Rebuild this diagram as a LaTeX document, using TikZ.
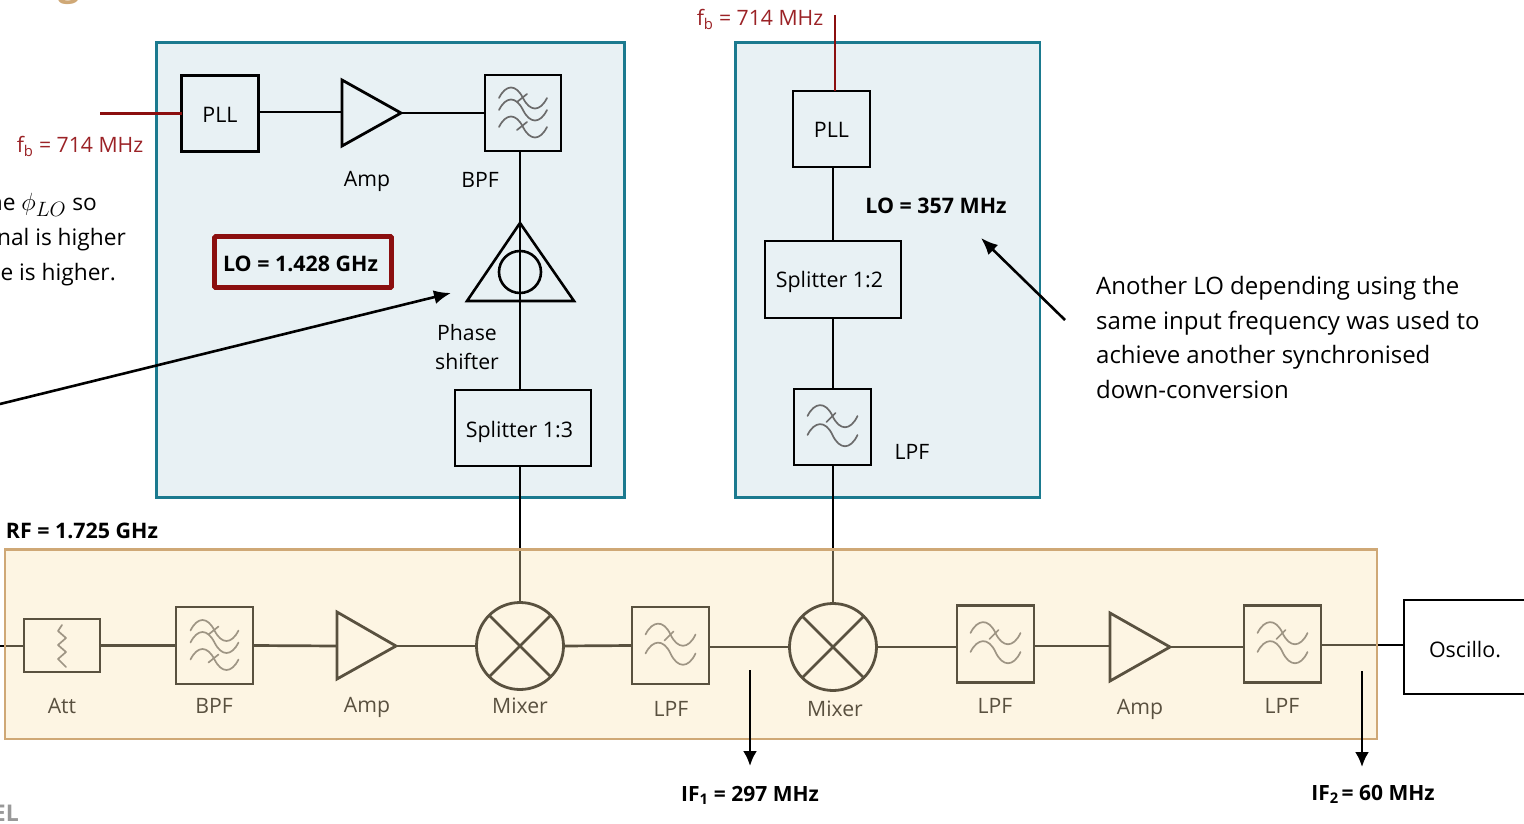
\documentclass[tikz,border=0pt]{standalone}
\usepackage{fontspec}
\setmainfont{Open Sans}
\usetikzlibrary{arrows.meta}
\definecolor{tealline}{HTML}{1B7A8F}
\definecolor{tealfill}{HTML}{E8F1F4}
\definecolor{tanline}{HTML}{CFA876}
\definecolor{veil}{RGB}{252,227,179}
\definecolor{darkred}{HTML}{8B0F0F}
\definecolor{fbred}{HTML}{9B2226}
\newcommand{\boxtext}[3]{\raisebox{#2}[\height][\depth]{\hspace*{#1}\fontsize{21.4}{24}\selectfont #3}}
\tikzset{
  x=1pt,y=-1pt,
  wire/.style={line width=2.7pt,black},
  redwire/.style={line width=2.5pt,darkred},
  lopanel/.style={draw=tealline,fill=tealfill,line width=2.6pt},
  blockbox/.style={draw=black,line width=2.8pt,inner sep=0pt,outer sep=0pt,align=center},
  mixerc/.style={circle,draw=black,line width=2.8pt,inner sep=0pt,outer sep=0pt,minimum size=87pt},
  lbl/.style={inner sep=0pt,yshift=-1.5pt,font=\fontsize{21.2}{24}\selectfont,align=center},
  blbl/.style={lbl,font=\fontsize{21.4}{24}\selectfont\bfseries},
  notelbl/.style={inner sep=0pt,anchor=base west,font=\fontsize{24}{28}\selectfont},
  edgelbl/.style={inner sep=0pt,anchor=base east,font=\fontsize{22.7}{26}\selectfont},
  redlbl/.style={lbl,text=fbred},
  wave/.style={line width=1.7pt,draw=black!58,line cap=round},
  ifarrow/.style={line width=2.6pt,black,-{Latex[length=15pt,width=14pt]}},
  callout/.style={line width=2.6pt,black,-{Latex[length=17pt,width=14pt]}},
  pics/lpfsym/.style={code={
    \foreach \yy in {-11,8}{
      \draw[wave] (-25,\yy) .. controls (-18,{\yy-14}) and (-7,{\yy-15}) .. (0,\yy)
                  .. controls (7,{\yy+15}) and (18,{\yy+15}) .. (25,\yy);}
    \draw[wave] (-6,-5) -- (3,-14);
  }},
  pics/bpfsym/.style={code={
    \foreach \yy in {-15,-3,14}{
      \draw[wave] (-24,\yy) .. controls (-17,{\yy-14}) and (-7,{\yy-14}) .. (0,\yy)
                  .. controls (7,{\yy+14}) and (17,{\yy+14}) .. (24,\yy);}
    \draw[wave] (-6,-11) -- (4,-19);
    \draw[wave] (-6,17) -- (4,9);
  }},
}
\begin{document}
\begin{tikzpicture}
\clip (0,0) rectangle (1524,824);
\fill[white] (0,0) rectangle (1524,824);

% cut-off text at the edges
\node[inner sep=0pt,anchor=base,text=tanline,font=\fontsize{38}{40}\selectfont\bfseries] (frag) at (69,-4) {g};
\node[inner sep=0pt,anchor=base east,text=black!40,font=\fontsize{23}{26}\selectfont\bfseries] (frag2) at (19,821) {EL};
\node[edgelbl] (t1) at (97,211) {he \scalebox{1.2}{$\phi_{LO}$} so};
\node[edgelbl] (t2) at (126,245) {nal is higher};
\node[edgelbl] (t3) at (116,280) {e is higher.};

% LO panels
\draw[lopanel] (156.5,42.5) rectangle (624.5,497.5);
\draw[lopanel] (735.5,42.5) rectangle (1040,497.5);

% first LO chain
\coordinate (redin1) at (100,113.5);
\node[blockbox,minimum width=77pt,minimum height=76pt] (pll1) at (220,113.5) {\boxtext{0pt}{-1pt}{PLL}};
\coordinate (amp1w) at (342,113);
\coordinate (amp1e) at (401,113);
\node[blockbox,minimum width=76pt,minimum height=76pt] (bpf1) at (523,113) {};
\pic at (bpf1.center) {bpfsym};
\coordinate (tri1a) at (520,223);
\coordinate (tri1l) at (467,301);
\coordinate (tri1r) at (574,301);
\node[circle,draw=black,line width=2.6pt,inner sep=0pt,minimum size=42pt] (ps1) at (520,272) {};
\node[blockbox,minimum width=136pt,minimum height=76pt] (spl1) at (523,428) {\boxtext{-7pt}{-4pt}{Splitter 1:3}};
\draw[redwire] (redin1) -- (pll1.west |- redin1);
\draw[wire] (pll1.east |- 0,112) -- (amp1w |- 0,112);
\draw[wire] (amp1e) -- (bpf1.west);
\draw[line width=2.8pt,line join=miter] (342,80) -- (amp1e) -- (342,146) -- cycle;
\draw[wire] (bpf1.south -| tri1a) -- (spl1.north -| tri1a);
\draw[line width=2.6pt,line join=miter] (tri1a) -- (tri1r) -- (tri1l) -- cycle;
\node[lbl] (amp1l) at (367,180) {Amp};
\node[lbl] (bpf1l) at (480,178) {BPF};
\node[lbl] (ps1l1) at (467,331) {Phase};
\node[lbl] (ps1l2) at (467,360) {shifter};
\node[blockbox,draw=darkred,line width=4.6pt,rounded corners=1pt,minimum width=177pt,minimum height=51pt] (lo1) at (303,262) {\raisebox{-2pt}[\height][\depth]{\hspace*{-5pt}\fontsize{21.4}{24}\selectfont\bfseries LO = 1.428 GHz}};
\node[redlbl] (fb1) at (80,145) {f\textsubscript{b} = 714 MHz};

% second LO chain
\coordinate (redin2) at (835,15);
\node[blockbox,minimum width=77pt,minimum height=76pt] (pll2) at (831.5,129) {\boxtext{0pt}{-1pt}{PLL}};
\node[blockbox,minimum width=136pt,minimum height=77pt] (spl2) at (833,279.5) {\boxtext{-7pt}{-2pt}{Splitter 1:2}};
\node[blockbox,minimum width=77pt,minimum height=76pt] (lpf0) at (832.5,427) {};
\pic at (lpf0.center) {lpfsym};
\draw[redwire] (redin2) -- (redin2 |- pll2.north);
\draw[wire] (pll2.south -| spl2.north) -- (spl2.north);
\draw[wire] (spl2.south) -- (lpf0.north -| spl2.south);
\node[redlbl] (fb2) at (760,18) {f\textsubscript{b} = 714 MHz};
\node[blbl] (lo2) at (936,204) {LO = 357 MHz};
\node[lbl] (lpf0l) at (912,450) {LPF};

% down-conversion chain (seen through the veil drawn after it)
\coordinate (rfin) at (0,646);
\node[blockbox,fill=white,minimum width=76pt,minimum height=53pt] (att) at (62,645.5) {};
\draw[line width=1.7pt,black!58,line cap=round,line join=round] (62,625) -- (58,631) -- (66,638) -- (58,645) -- (66,652) -- (58,659) -- (66,667);
\node[blockbox,minimum width=77pt,minimum height=77pt] (bpf2) at (214.5,645.5) {};
\pic at (bpf2.center) {bpfsym};
\coordinate (amp2w) at (337,646);
\coordinate (amp2e) at (396,646);
\node[mixerc] (mix1) at (520,646) {};
\node[blockbox,minimum width=77pt,minimum height=77pt] (lpf1) at (670.5,645.5) {};
\pic at (lpf1.center) {lpfsym};
\node[mixerc] (mix2) at (833,647) {};
\node[blockbox,minimum width=77pt,minimum height=77pt] (lpf2) at (995.5,644) {};
\pic at (lpf2.center) {lpfsym};
\coordinate (amp3w) at (1110,647);
\coordinate (amp3e) at (1170,647);
\node[blockbox,minimum width=77pt,minimum height=77pt] (lpf3) at (1282.5,644) {};
\pic at (lpf3.center) {lpfsym};
\node[blockbox,fill=white,minimum width=130pt,minimum height=94pt] (osc) at (1469,647) {\boxtext{-8pt}{-3pt}{Oscillo.}};

\draw[wire] (rfin) -- (att.west |- rfin);
\draw[wire] (att.east) -- (bpf2.west);
\draw[wire] (bpf2.east) -- (amp2w);
\draw[line width=2.8pt,line join=miter] (337,612) -- (amp2e) -- (337,679) -- cycle;
\draw[wire] (amp2e) -- (mix1.west);
\draw[wire] (mix1.east) -- (lpf1.west);
\draw[wire] (lpf1.east |- mix2.west) -- (mix2.west);
\draw[wire] (mix2.east) -- (lpf2.west |- mix2.east);
\draw[wire] (lpf2.east |- 0,646) -- (amp3w |- 0,646);
\draw[line width=2.8pt,line join=miter] (1110,613) -- (amp3e) -- (1110,681) -- cycle;
\draw[wire] (amp3e) -- (lpf3.west |- amp3e);
\draw[wire] (lpf3.east |- 0,645) -- (osc.west |- 0,645);
\draw[line width=2.6pt] (mix1.45) -- (mix1.225);
\draw[line width=2.6pt] (mix1.135) -- (mix1.315);
\draw[line width=2.6pt] (mix2.45) -- (mix2.225);
\draw[line width=2.6pt] (mix2.135) -- (mix2.315);
\draw[wire] (spl1.south -| mix1.north) -- (mix1.north);
\draw[wire] (lpf0.south -| mix2.north) -- (mix2.north);
\node[lbl] (attl) at (62,704.5) {Att};
\node[lbl] (bpf2l) at (214,704.5) {BPF};
\node[lbl] (amp2l) at (367,706) {Amp};
\node[lbl] (mix1l) at (520,704.5) {Mixer};
\node[lbl] (lpf1l) at (671,707) {LPF};
\node[lbl] (mix2l) at (835,707) {Mixer};
\node[lbl] (lpf2l) at (995,704.5) {LPF};
\node[lbl] (amp3l) at (1140,707.5) {Amp};
\node[lbl] (lpf3l) at (1282,704.5) {LPF};

% the veil over the chain
\fill[veil,opacity=.357] (5,549.5) rectangle (1377,739);
\draw[tanline,line width=2.6pt] (5,549.5) rectangle (1377,739);

% outputs and notes
\coordinate (if1a) at (750,670);
\coordinate (if1b) at (750,766);
\coordinate (if2a) at (1362,671);
\coordinate (if2b) at (1362,767);
\draw[ifarrow] (if1a) -- (if1b);
\draw[ifarrow] (if2a) -- (if2b);
\node[blbl,font=\fontsize{21}{24}\selectfont\bfseries] (if1) at (750,794) {IF\textsubscript{1} = 297 MHz};
\node[blbl,font=\fontsize{21}{24}\selectfont\bfseries] (if2) at (1373,793) {IF\textsubscript{2}\hspace{3pt}= 60 MHz};
\node[blbl] (rf) at (82,529) {RF = 1.725 GHz};

\coordinate (ca1) at (0,404);
\coordinate (ca2) at (451,293);
\draw[callout] (ca1) -- (ca2);
\coordinate (cb1) at (1065,320);
\coordinate (cb2) at (981,238);
\draw[callout] (cb1) -- (cb2);
\node[notelbl] (n1) at (1096,294.5) {Another LO depending using the};
\node[notelbl] (n2) at (1096,329) {same input frequency was used to};
\node[notelbl] (n3) at (1096,363.5) {achieve another synchronised};
\node[notelbl] (n4) at (1096,398) {down-conversion};
\end{tikzpicture}
\end{document}
